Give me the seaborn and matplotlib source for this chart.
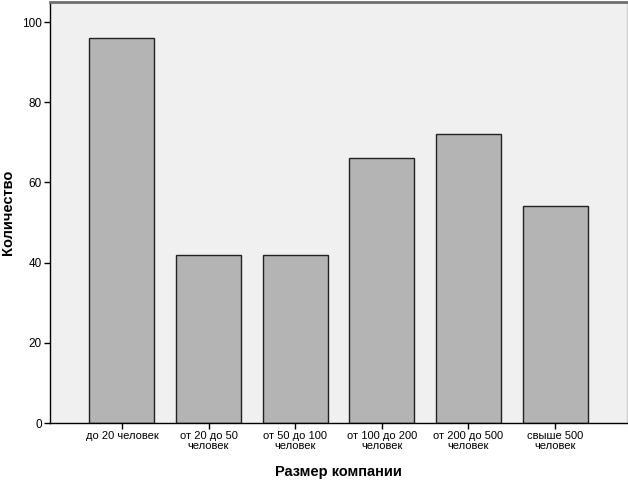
import matplotlib
matplotlib.use("Agg")
import matplotlib.pyplot as plt
import seaborn as sns
import pandas as pd

categories = ["до 20 человек", "от 20 до 50\nчеловек", "от 50 до 100\nчеловек",
              "от 100 до 200\nчеловек", "от 200 до 500\nчеловек", "свыше 500\nчеловек"]
counts = [96, 42, 42, 66, 72, 54]

sns.set_theme(style="white")
plt.rcParams['font.family'] = ['Liberation Sans', 'DejaVu Sans']
plt.rcParams['text.color'] = 'black'
plt.rcParams['axes.labelcolor'] = 'black'
plt.rcParams['xtick.color'] = 'black'
plt.rcParams['ytick.color'] = 'black'

df = pd.DataFrame({"cat": categories, "n": counts})

fig = plt.figure(figsize=(6.28, 4.82), dpi=100)
ax = fig.add_axes([50/628, 59/482, 577/628, 421/482])
ax.set_facecolor("#f0f0f0")
sns.barplot(data=df, x="cat", y="n", ax=ax, color="#b4b4b4", saturation=1,
            width=0.75, edgecolor="#222222", linewidth=1)

ax.set_xlim(-0.83, 5.83)
ax.set_ylim(0, 105)
ax.set_yticks([0, 20, 40, 60, 80, 100])
ax.tick_params(axis="y", labelsize=8.5, length=4, width=1, color="black", left=True, pad=2)
ax.tick_params(axis="x", labelsize=8, length=4, width=1, color="black", bottom=True, pad=2)
for lbl in ax.get_xticklabels():
    lbl.set_linespacing(0.95)
ax.set_xlabel("Размер компании", fontsize=10.5, fontweight="bold", labelpad=10)
ax.set_ylabel("Количество", fontsize=10.5, fontweight="bold")
ax.yaxis.set_label_coords(-35/577, 0.5)

for s in ["left", "bottom"]:
    ax.spines[s].set_color("black")
    ax.spines[s].set_linewidth(1)
ax.spines["top"].set_color("#707070")
ax.spines["top"].set_linewidth(2)
ax.spines["right"].set_color("#d0d0d0")
ax.spines["right"].set_linewidth(1)

fig.savefig("out.png", dpi=100, facecolor="white")
